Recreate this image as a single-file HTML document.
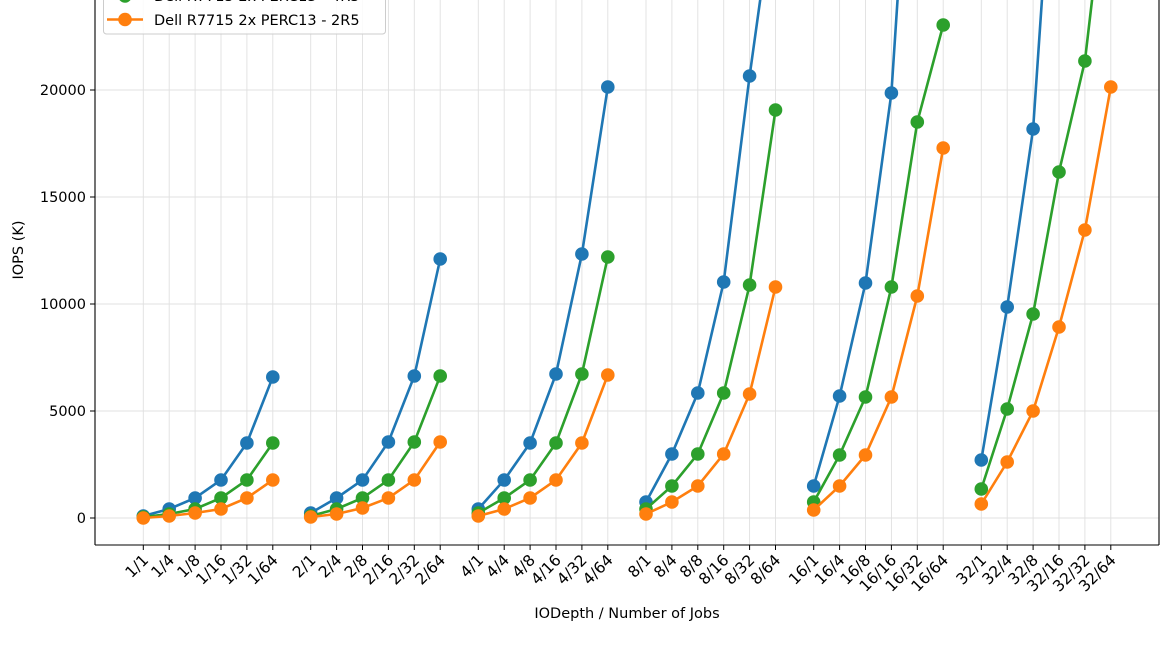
<!DOCTYPE html>
<html><head><meta charset="utf-8"><style>
html,body{margin:0;padding:0;background:#fff}
svg{display:block;font-family:"DejaVu Sans","Liberation Sans",sans-serif}
</style></head><body>
<svg id="s" width="1170" height="663" viewBox="0 0 1170 663" xmlns="http://www.w3.org/2000/svg"></svg>
<script>
const s=document.getElementById('s');
let h='';
const groups=['1','2','4','8','16','32'],jobs=['1','4','8','16','32','64'];
const starts=[143.3,310.7,478.3,646,813.7,981.3],sp=25.9;
const xs=[];starts.forEach(st=>{for(let j=0;j<6;j++)xs.push(st+j*sp)});
const L=95,R=1159,B=545,T=-20;
h+='<defs><clipPath id="c"><rect x="'+L+'" y="'+T+'" width="'+(R-L)+'" height="'+(B-T)+'"/></clipPath></defs>';
xs.forEach(x=>h+=`<line x1="${x}" y1="${T}" x2="${x}" y2="${B}" stroke="#e0e0e0" stroke-width="0.9"/>`);
const yt=[[0,518],[5000,411],[10000,304],[15000,197],[20000,90]];
yt.forEach(([v,y])=>{h+=`<line x1="${L}" y1="${y}" x2="${R}" y2="${y}" stroke="#e0e0e0" stroke-width="0.9"/>`;
h+=`<line x1="${L-5}" y1="${y}" x2="${L}" y2="${y}" stroke="#000" stroke-width="1"/>`;
h+=`<text x="${L-9}" y="${y+5}" font-size="14.5" text-anchor="end" fill="#000">${v}</text>`});
const data={
'#1f77b4':[[516,509,498,480,443,377],[513,498,480,442,376,259],[509,480,443,374,254,87],[502,454,393,282,76,-110],[486,396,283,93,-300,-700],[460,307,129,-250,-700,-1500]],
'#2ca02c':[[517,514,509,498,480,443],[516,509,498,480,442,376],[513,498,480,443,374,257],[509,486,454,393,285,110],[502,455,397,287,122,25],[489,409,314,172,61,-160]],
'#ff7f0e':[[518,516,513,509,498,480],[517,514,508,498,480,442],[516,509,498,480,443,375],[514,502,486,454,394,287],[510,486,455,397,296,148],[504,462,411,327,230,87]]};
h+='<g clip-path="url(#c)">';
for(const col in data){data[col].forEach((g,gi)=>{
 const pts=g.map((y,j)=>[starts[gi]+j*sp,y]);
 h+=`<polyline points="${pts.map(p=>p.join(',')).join(' ')}" fill="none" stroke="${col}" stroke-width="2.6"/>`;
 pts.forEach(p=>h+=`<circle cx="${p[0]}" cy="${p[1]}" r="6.8" fill="${col}"/>`);
});}
h+='</g>';
h+=`<line x1="${L}" y1="${B}" x2="${R}" y2="${B}" stroke="#000" stroke-width="1.1"/>`;
h+=`<line x1="${L}" y1="0" x2="${L}" y2="${B}" stroke="#000" stroke-width="1.1"/>`;
h+=`<line x1="${R}" y1="0" x2="${R}" y2="${B}" stroke="#000" stroke-width="1.1"/>`;
let k=0;groups.forEach(g=>jobs.forEach(j=>{const x=xs[k++];
 h+=`<line x1="${x}" y1="${B}" x2="${x}" y2="${B+5}" stroke="#000"/>`;
 h+=`<text transform="translate(${x+6},${B+16}) rotate(-45)" font-size="15.5" text-anchor="end" fill="#000">${g}/${j}</text>`;}));
h+=`<text x="627" y="618" font-size="14.5" text-anchor="middle">IODepth / Number of Jobs</text>`;
h+=`<text transform="translate(23,250) rotate(-90)" font-size="14.5" text-anchor="middle">IOPS (K)</text>`;
h+=`<rect x="103.5" y="-30" width="282" height="64" rx="3" fill="#fff" fill-opacity="0.85" stroke="#ccc"/>`;
h+=`<line x1="107" y1="-4" x2="143" y2="-4" stroke="#2ca02c" stroke-width="2.6"/><circle cx="125" cy="-4" r="6.8" fill="#2ca02c"/>`;
h+=`<text x="154" y="1" font-size="14.5">Dell R7715 2x PERC13 - 4R5</text>`;
h+=`<line x1="107" y1="19.5" x2="143" y2="19.5" stroke="#ff7f0e" stroke-width="2.6"/><circle cx="125" cy="19.5" r="6.8" fill="#ff7f0e"/>`;
h+=`<text x="154" y="25" font-size="14.5">Dell R7715 2x PERC13 - 2R5</text>`;
s.innerHTML=h;
</script>
</body></html>
